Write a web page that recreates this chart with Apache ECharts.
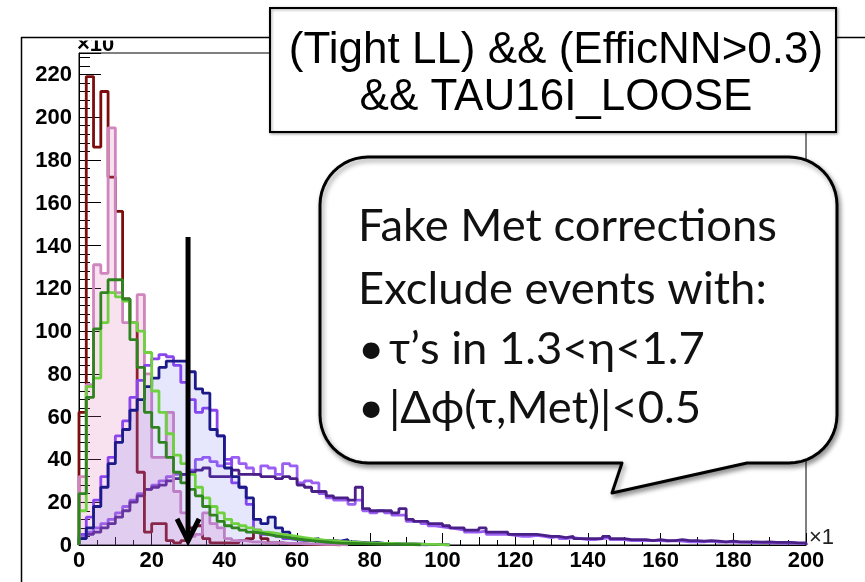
<!DOCTYPE html>
<html><head><meta charset="utf-8">
<script src="https://cdn.jsdelivr.net/npm/echarts@6/dist/echarts.min.js"></script>
<style>html,body{margin:0;padding:0;background:#fff}#c{width:865px;height:582px}</style>
</head><body><div id="c"></div>
<script>
// ---- data (bin width 2, bins start at 0) ----
const BIN = 2;
const X_MIN = 0, X_MAX = 200, X_STEP = 20;
const Y_MIN = 0, Y_MAX = 230, Y_STEP = 20;
const xTickLabels = ['0', '20', '40', '60', '80', '100', '120', '140', '160', '180', '200'];
const yTickLabels = ['0', '20', '40', '60', '80', '100', '120', '140', '160', '180', '200', '220'];
const xScaleNote = '×1';
const yScaleNote = '×10';

const maroon = [62, 219, 186, 212, 172, 156, 115, 104, 34, 6, 10, 10, 2, 1, 2, 8, 9, 3, 1, 1, 1, 1, 2, 3, 7, 3, 1, 1, 0.5, 0.5, 0.5, 0.3, 0.3, 0.2, 0.2, 0];
const pink = [32, 75, 131, 127, 195, 118, 104, 104, 117, 80, 41, 41, 62, 25, 15, 4, 5, 15, 10, 8, 3, 2, 2, 1.5, 1.5, 1, 1, 1, 0.8, 0.8, 0.5, 0.5, 0.4, 0.3, 0.3, 0.2, 0];
const darkGreen = [24, 69, 101, 118, 124, 124, 115, 96, 83, 62, 55, 48, 41, 34, 29, 26, 23, 18, 14, 11, 9, 8, 7, 6, 5.5, 5, 4.3, 3.8, 3.3, 2.8, 2.4, 2, 1.7, 1.4, 1.1, 0.9, 0.8, 0.7, 0.6, 0.5, 0.4, 0.4, 0.3, 0.3, 0.2, 0.2, 0];
const lightGreen = [16, 74, 78, 104, 118, 116, 114, 104, 100, 90, 72, 62, 52, 42, 38, 33, 27, 22, 18, 15, 12, 10, 9, 8, 7, 6, 5.5, 5, 4.5, 4, 3.5, 3, 2.6, 2.2, 2, 1.7, 1.5, 1.3, 1.1, 1, 0.9, 0.8, 0.7, 0.6, 0.5, 0.5, 0.4, 0.3, 0.3, 0.2, 0];
const navy = [3, 8, 18, 27, 38, 48, 54, 63, 68, 74, 78, 83, 86, 86, 86, 81, 73, 71, 54, 51, 36, 32, 27, 22, 12, 10, 13, 8, 6, 4, 3, 2.5, 3, 2, 2, 1.8, 2.5, 1.5, 1.2, 1, 1.2, 0.8, 0.8, 0.6, 0.5, 0.5, 0.4, 0.3, 0.3, 0.2, 0];
const violet = [5, 13, 21, 32, 41, 51, 58, 69, 77, 84, 87, 89, 88, 84, 76, 68, 62, 64, 63, 51, 40, 29, 27, 19, 6, 5, 5, 4, 3, 2.5, 2, 2, 1.8, 1.5, 1.3, 1.2, 1, 0.9, 0.8, 0.7, 0.6, 0.5, 0.4, 0.4, 0.3, 0.3, 0.2, 0];
const darkPurple = [3, 5, 6, 8, 10, 13, 16, 20, 23, 26, 27, 28, 30, 31, 33, 34, 35, 36, 32, 32, 32, 35, 33, 33, 33, 32, 32, 31, 32, 31, 28, 27, 25, 25, 23, 22, 22, 21, 27, 17, 16, 16, 16, 15, 17, 12, 11, 11, 10, 10, 9, 8, 8, 7, 7, 8, 6, 6, 6, 5, 5, 5, 5, 4.5, 4, 4, 3.5, 4, 3, 3, 3, 3, 4, 3, 3, 2.5, 2.5, 2.5, 2, 2.5, 2, 2, 2.5, 2, 2, 1.8, 2, 1.8, 1.5, 1.8, 1.5, 1.5, 1.5, 1.3, 1.5, 1.2, 1.2, 1.2, 1, 1];
const lightPurple = [4, 6, 8, 10, 12, 15, 18, 21, 24, 26, 28, 30, 32, 33, 33, 35, 40, 41, 39, 37, 38, 41, 38, 36, 33, 37, 36, 33, 38, 37, 29, 30, 29, 24, 22, 21, 21, 19, 21, 16, 15, 16, 15, 14, 14, 11, 11, 10, 9, 8.5, 8, 7.5, 7, 6, 6, 6.5, 5, 5, 5, 4.5, 4, 4, 4.5, 4, 3.5, 4, 3, 3.5, 3, 2.5, 2.5, 3, 3.5, 2.5, 2.5, 2, 2, 2, 2, 2, 1.8, 2, 1.8, 1.5, 1.5, 1.5, 1.8, 1.3, 1.3, 1.3, 1.2, 1.2, 1, 1.2, 1, 1, 0.8, 1, 0.8, 0.8];

const ARROW_X = 30, ARROW_TOP = 144, ARROW_TIP = 1;
const titleLines = ['(Tight LL) && (EfficNN>0.3)', '&& TAU16I_LOOSE'];
const noteLines = ['Fake Met corrections', 'Exclude events with:'];
const noteBullets = ['τ’s in 1.3<η<1.7', '|Δϕ(τ,Met)|<0.5'];

// ---- helpers ----
function hist(vals) {
  const pts = [[0, 0]];
  vals.forEach((v, i) => pts.push([i * BIN, v]));
  pts.push([vals.length * BIN, vals[vals.length - 1]]);
  pts.push([vals.length * BIN, 0]);
  return pts;
}
function mkSeries(name, vals, color, fill, z) {
  const s = {
    name, type: 'line', step: 'end', data: hist(vals), symbol: 'none', showSymbol: false,
    lineStyle: { color, width: 2.8 }, itemStyle: { color }, z: z || 2, animation: false, silent: true
  };
  if (fill) s.areaStyle = { color: fill, opacity: 1 };
  return s;
}

const chart = echarts.init(document.getElementById('c'), null, { renderer: 'canvas' });
const FAM = 'Liberation Sans';
const LBL = 22;
const option = {
  backgroundColor: '#fff',
  animation: false,
  grid: { left: 79, top: 53, width: 727, height: 492, show: true, borderColor: '#000', borderWidth: 1, backgroundColor: 'transparent' },
  xAxis: [
    { type: 'value', min: X_MIN, max: X_MAX, interval: X_STEP, position: 'bottom',
      axisLine: { show: true, onZero: false, lineStyle: { color: '#000', width: 1 } },
      axisTick: { show: true, inside: true, length: 12, lineStyle: { color: '#000', width: 1 } },
      minorTick: { show: true, splitNumber: 4, length: 5, lineStyle: { color: '#000', width: 1 } },
      splitLine: { show: false }, minorSplitLine: { show: false },
      axisLabel: { show: false } },
    { type: 'value', min: X_MIN, max: X_MAX, interval: X_STEP / 2, position: 'bottom',
      axisLine: { show: false, onZero: false },
      axisTick: { show: true, inside: true, length: 8, lineStyle: { color: '#000', width: 1 } },
      splitLine: { show: false }, axisLabel: { show: false } }
  ],
  yAxis: [
    { type: 'value', min: Y_MIN, max: Y_MAX, interval: Y_STEP, position: 'left',
      axisLine: { show: true, onZero: false, lineStyle: { color: '#000', width: 1 } },
      axisTick: { show: true, inside: true, length: 22, lineStyle: { color: '#000', width: 1 } },
      splitLine: { show: false },
      axisLabel: { show: false } },
    { type: 'value', min: Y_MIN, max: Y_MAX, interval: 4, position: 'left', offset: 0,
      axisLine: { show: false, onZero: false },
      axisTick: { show: true, inside: true, length: 11, lineStyle: { color: '#000', width: 1 } },
      splitLine: { show: false }, axisLabel: { show: false } }
  ],
  series: [
    mkSeries('lightPurple', lightPurple, '#9a5ef2', null, 2),
    mkSeries('darkPurple', darkPurple, '#4a1f88', null, 3),
    mkSeries('maroon', maroon, '#7d0c0c', null, 4),
    mkSeries('pink', pink, '#cf86be', 'rgba(225,110,180,0.2)', 5),
    mkSeries('violet', violet, '#8a45ee', null, 6),
    mkSeries('navy', navy, '#1b1a88', 'rgba(90,90,240,0.15)', 7),
    mkSeries('lightGreen', lightGreen, '#6fd13f', null, 8),
    mkSeries('darkGreen', darkGreen, '#2f8420', null, 9)
  ]
};
chart.setOption(option);

// ---- annotations ----
const mctx = document.createElement('canvas').getContext('2d');
function fitSize(text, family, weight, target) {
  mctx.font = (weight || 'normal') + ' 100px ' + family;
  return 100 * target / mctx.measureText(text).width;
}
const NOTE_FONT = 'Lato';
const noteSize = Math.round(fitSize(noteLines[0], NOTE_FONT, 'normal', 419) * 10) / 10;
const titleSize = 44;

const p1 = chart.convertToPixel({ xAxisIndex: 0, yAxisIndex: 0 }, [ARROW_X, ARROW_TOP]);
const p2 = chart.convertToPixel({ xAxisIndex: 0, yAxisIndex: 0 }, [ARROW_X, ARROW_TIP]);
const xAxisY = chart.convertToPixel({ yAxisIndex: 0 }, Y_MIN);
const yAxisX = chart.convertToPixel({ xAxisIndex: 0 }, X_MIN);

// tick labels placed through the axis scales
const tickLabels = [];
xTickLabels.forEach(t => {
  const px = chart.convertToPixel({ xAxisIndex: 0 }, Number(t));
  tickLabels.push({ type: 'text', z: 45, style: { text: t, x: px, y: xAxisY + 16, fontSize: LBL, fontWeight: 'bold', fontFamily: FAM, fill: '#000', align: 'center', verticalAlign: 'middle' } });
});
yTickLabels.forEach(t => {
  const py = chart.convertToPixel({ yAxisIndex: 0 }, Number(t));
  tickLabels.push({ type: 'text', z: 45, style: { text: t, x: yAxisX - 7, y: py + 1, fontSize: LBL, fontWeight: 'bold', fontFamily: FAM, fill: '#000', align: 'right', verticalAlign: 'middle' } });
});

// speech bubble outline as polygon (rounded rect + tail)
function bubblePoints(x1, y1, x2, y2, r, tail) {
  const pts = [];
  function arc(cx, cy, a0, a1) {
    const n = 12;
    for (let k = 0; k <= n; k++) {
      const a = (a0 + (a1 - a0) * k / n) * Math.PI / 180;
      pts.push([cx + r * Math.cos(a), cy + r * Math.sin(a)]);
    }
  }
  arc(x2 - r, y1 + r, -90, 0);
  arc(x2 - r, y2 - r, 0, 90);
  tail.forEach(p => pts.push(p));
  arc(x1 + r, y2 - r, 90, 180);
  arc(x1 + r, y1 + r, 180, 270);
  return pts;
}
const bubble = bubblePoints(320, 157, 837, 463, 48, [[747, 463], [612, 493], [622, 463]]);
function note(text, x, y) {
  return { type: 'text', z: 71, style: { text, x, y, fontSize: noteSize, fontFamily: NOTE_FONT, fill: '#111', verticalAlign: 'middle' } };
}

const graphic = tickLabels.concat([
  // outer canvas frame
  { type: 'line', z: 50, shape: { x1: 21, y1: 37.5, x2: 865, y2: 37.5 }, style: { stroke: '#000', lineWidth: 1.5 } },
  { type: 'line', z: 50, shape: { x1: 21.5, y1: 37, x2: 21.5, y2: 582 }, style: { stroke: '#000', lineWidth: 1.5 } },
  // y scale note (top clipped)
  { type: 'text', z: 48, style: { text: yScaleNote, x: 77, y: 45, fontSize: 22, fontWeight: 'bold', fontFamily: FAM, fill: '#000', verticalAlign: 'middle' } },
  { type: 'rect', z: 49, shape: { x: 74, y: 28, width: 50, height: 12.5 }, style: { fill: '#fff' } },
  // x scale note
  { type: 'text', z: 48, style: { text: xScaleNote, x: 809, y: 538, fontSize: 22, fontFamily: FAM, fill: '#222', verticalAlign: 'middle' } },
  // title box
  { type: 'rect', z: 60, shape: { x: 270, y: 8, width: 566, height: 124 }, style: { fill: '#fff', stroke: '#000', lineWidth: 2, shadowBlur: 3, shadowOffsetX: 1, shadowOffsetY: 1, shadowColor: 'rgba(0,0,0,0.35)' } },
  { type: 'text', z: 61, style: { text: titleLines[0], x: 556, y: 51, fontSize: titleSize, fontFamily: FAM, fill: '#000', align: 'center', verticalAlign: 'middle' } },
  { type: 'text', z: 61, style: { text: titleLines[1], x: 556, y: 98, fontSize: titleSize, fontFamily: FAM, fill: '#000', align: 'center', verticalAlign: 'middle' } },
  // cut arrow
  { type: 'line', z: 40, shape: { x1: p1[0], y1: p1[1], x2: p2[0], y2: p2[1] - 2 }, style: { stroke: '#000', lineWidth: 5 } },
  { type: 'polyline', z: 40, shape: { points: [[p2[0] - 11, p2[1] - 24], [p2[0], p2[1] - 2], [p2[0] + 11, p2[1] - 24]] }, style: { stroke: '#000', lineWidth: 5, fill: null, lineJoin: 'miter' } },
  // speech bubble
  { type: 'polygon', z: 70, shape: { points: bubble }, style: { fill: '#fff', stroke: '#000', lineWidth: 3, lineJoin: 'round', shadowBlur: 5, shadowOffsetX: 2, shadowOffsetY: 3, shadowColor: 'rgba(0,0,0,0.4)' } },
  note(noteLines[0], 358, 226),
  note(noteLines[1], 358, 289),
  note('•', 358, 349),
  note(noteBullets[0], 389, 349),
  note('•', 358, 408),
  note(noteBullets[1], 389, 408)
]);
chart.setOption({ graphic });
</script>
</body></html>
